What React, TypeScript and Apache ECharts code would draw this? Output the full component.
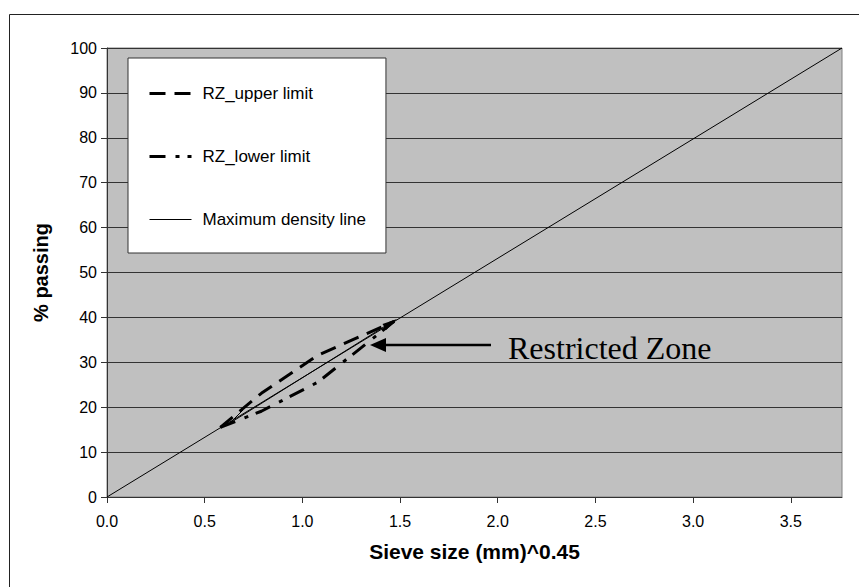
import React, { useEffect, useRef } from "react";
import * as echarts from "echarts";

const zoneX = [0.58, 0.79, 1.08, 1.47];
const upperLimit = [15.5, 23.1, 31.6, 39.1];
const lowerLimit = [15.5, 19.1, 25.6, 39.1];
const maxDensityX = [0, 3.762];
const maxDensityY = [0, 100];
const xTicks = [0, 0.5, 1.0, 1.5, 2.0, 2.5, 3.0, 3.5];
const seriesNames = ["RZ_upper limit", "RZ_lower limit", "Maximum density line"];

export default function App() {
  const ref = useRef<HTMLDivElement>(null);
  useEffect(() => {
    if (!ref.current) return;
    const chart = echarts.init(ref.current, null, { renderer: "svg" });
    const pairs = (xs: number[], ys: number[]) => xs.map((x, i) => [x, ys[i]]);
    const upperDash = [16, 9];
    const lowerDash = [16, 10, 4, 8];
    chart.setOption({
      animation: false,
      backgroundColor: "#ffffff",
      textStyle: { fontFamily: "Liberation Sans, Arial, sans-serif" },
      grid: {
        left: 107,
        top: 48,
        right: 17,
        bottom: 90,
        show: true,
        backgroundColor: "#c0c0c0",
        borderColor: "#808080",
        borderWidth: 1,
      },
      xAxis: {
        type: "value",
        min: 0,
        max: 3.762,
        name: "Sieve size (mm)^0.45",
        nameLocation: "middle",
        nameGap: 44,
        nameTextStyle: { fontSize: 21, fontWeight: "bold", color: "#000" },
        axisLine: { show: true, lineStyle: { color: "#333", width: 1 } },
        axisTick: { show: true, length: 6, lineStyle: { color: "#333" }, customValues: xTicks },
        axisLabel: {
          fontSize: 16,
          color: "#000",
          margin: 16,
          customValues: xTicks,
          formatter: (v: number) => v.toFixed(1),
        },
        splitLine: { show: false },
      },
      yAxis: {
        type: "value",
        min: 0,
        max: 100,
        interval: 10,
        name: "% passing",
        nameLocation: "middle",
        nameGap: 56,
        nameTextStyle: { fontSize: 20, fontWeight: "bold", color: "#000" },
        axisLine: { show: true, lineStyle: { color: "#333", width: 1 } },
        axisTick: { show: true, length: 6, lineStyle: { color: "#333" } },
        axisLabel: { fontSize: 16, color: "#000", margin: 10 },
        splitLine: { show: true, lineStyle: { color: "#333", width: 1 } },
      },
      legend: {
        show: true,
        orient: "vertical",
        left: 128,
        top: 58,
        data: [
          { name: seriesNames[0], lineStyle: { width: 3, type: upperDash, color: "#000" } },
          { name: seriesNames[1], lineStyle: { width: 3, type: lowerDash, color: "#000" } },
          { name: seriesNames[2], lineStyle: { width: 1, type: "solid", color: "#000" } },
        ],
        itemWidth: 42,
        itemHeight: 14,
        itemGap: 46,
        padding: [27, 20, 25, 20],
        backgroundColor: "#ffffff",
        borderColor: "#333",
        borderWidth: 1,
        borderRadius: 0,
        itemStyle: { opacity: 0 },
        textStyle: { fontSize: 17, color: "#000", padding: [0, 0, 0, 6] },
      },
      series: [
        {
          name: seriesNames[0],
          type: "line",
          data: pairs(zoneX, upperLimit),
          symbol: "none",
          lineStyle: { color: "#000", width: 3, type: upperDash },
          itemStyle: { color: "#000" },
          z: 3,
        },
        {
          name: seriesNames[1],
          type: "line",
          data: pairs(zoneX, lowerLimit),
          symbol: "none",
          lineStyle: { color: "#000", width: 3, type: lowerDash },
          itemStyle: { color: "#000" },
          z: 3,
        },
        {
          name: seriesNames[2],
          type: "line",
          data: pairs(maxDensityX, maxDensityY),
          symbol: "none",
          lineStyle: { color: "#000", width: 1, type: "solid" },
          itemStyle: { color: "#000" },
          z: 2,
        },
      ],
      graphic: [
        {
          type: "rect",
          shape: { x: 9.5, y: 14.5, width: 900, height: 700 },
          style: { fill: "none", stroke: "#222", lineWidth: 1 },
          silent: true,
        },
        {
          type: "text",
          x: 508,
          y: 348,
          style: {
            text: "Restricted Zone",
            font: "32px 'Liberation Serif', 'Times New Roman', serif",
            fill: "#000",
            verticalAlign: "middle",
          },
          z: 10,
        },
        {
          type: "line",
          shape: { x1: 491, y1: 345, x2: 382, y2: 345 },
          style: { stroke: "#000", lineWidth: 2.5 },
          z: 10,
        },
        {
          type: "polygon",
          shape: { points: [[370, 345], [386, 338], [386, 352]] },
          style: { fill: "#000" },
          z: 10,
        },
        {
          type: "line",
          shape: { x1: 230, y1: 423, x2: 390, y2: 323 },
          style: { stroke: "#000", lineWidth: 1 },
          z: 10,
        },
        {
          type: "line",
          shape: { x1: 230, y1: 423, x2: 243, y2: 410 },
          style: { stroke: "#000", lineWidth: 1 },
          z: 10,
        },
        {
          type: "polygon",
          shape: { points: [[397, 319], [386.2, 329.9], [382.5, 323.9]] },
          style: { fill: "#000" },
          z: 10,
        },
      ],
    });
    return () => chart.dispose();
  }, []);
  return <div ref={ref} style={{ width: 859, height: 587, position: "absolute", left: 0, top: 0 }} />;
}
